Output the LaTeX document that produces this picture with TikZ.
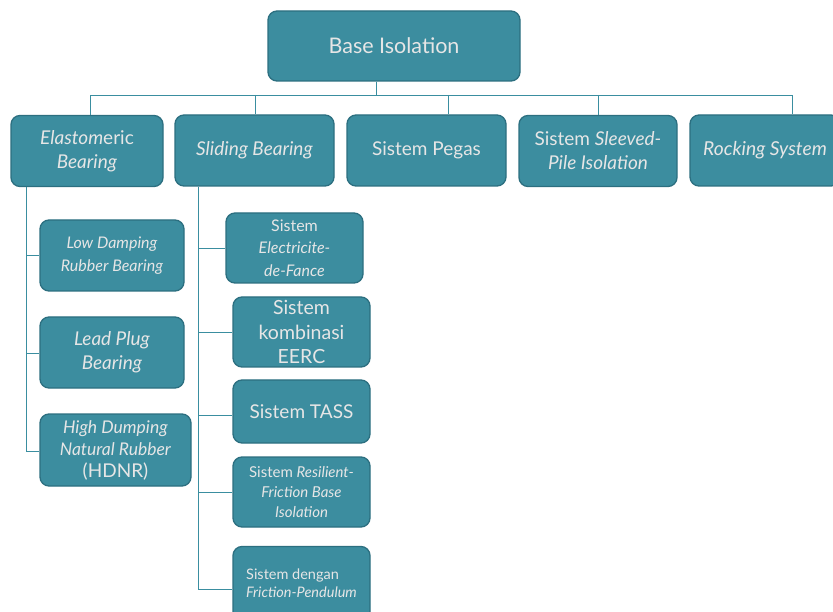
\documentclass[tikz,border=0pt]{standalone}
\usepackage{fontspec}
\setmainfont{Lato}
\definecolor{boxfill}{HTML}{3C8D9F}
\definecolor{boxedge}{HTML}{2C6F80}
\definecolor{linkcol}{HTML}{3A8EA0}
\definecolor{boxtext}{HTML}{E6E6E6}
\tikzset{
  box/.style={draw=boxedge, line width=1.3pt, fill=boxfill, rounded corners=9pt,
    text=boxtext, align=center, inner sep=2pt},
  lbl/.style={text=boxtext, inner sep=0pt},
  link/.style={draw=linkcol, line width=0.9pt},
  fs/.style n args={2}{font=\fontsize{#1}{#2}\selectfont},
}
\begin{document}
\begin{tikzpicture}[x=1pt,y=-1pt]
\useasboundingbox (0,0) rectangle (833,612);
\clip (0,0) rectangle (833,612);

% root
\node[box, minimum width=252pt, minimum height=70pt, fs={21.5}{24}] (base) at (394,46) {Base Isolation};

% first level
\node[box, minimum width=152pt, minimum height=71pt, fs={19}{24}] (elast) at (87,151)
  {\textit{Elastom}eric\\\textit{Bearing}};
\node[box, minimum width=159pt, minimum height=71pt, fs={19}{24}] (slide) at (254.5,150.5)
  {\textit{Sliding Bearing}};
\node[box, minimum width=159pt, minimum height=71pt, fs={19}{24}] (pegas) at (426.5,150.5)
  {Sistem Pegas};
\node[box, minimum width=158pt, minimum height=71pt, fs={19}{24}] (sleeve) at (598,151)
  {Sistem \textit{Sleeved-}\\\textit{Pile Isolation}};
\node[box, minimum width=150pt, minimum height=71pt, fs={19.2}{24}] (rock) at (765,150.5)
  {\textit{Rocking System}};

% elastomeric bearing types
\node[box, minimum width=144pt, minimum height=71pt, fs={16}{23}] (low) at (112,255.5)
  {\textit{Low Damping}\\\textit{Rubber Bearing}};
\node[box, minimum width=144pt, minimum height=71pt, fs={19}{24}] (lead) at (112,352.5)
  {\textit{Lead Plug}\\\textit{Bearing}};
\node[box, minimum width=151pt, minimum height=72pt, fs={17.5}{22}] (hdnr) at (115.5,450)
  {\textit{High Dumping}\\\textit{Natural Rubber}\\{\fontsize{19}{22}\selectfont(HDNR)}};

% sliding bearing types
\node[box, minimum width=137pt, minimum height=70pt, fs={16}{22.5}] (elec) at (294.5,248)
  {Sistem\\\textit{Electricite-}\\\textit{de-Fance}};
\node[box, minimum width=137pt, minimum height=70pt, fs={19.5}{24.5}] (eerc) at (301.5,332)
  {Sistem\\kombinasi\\EERC};
\node[box, minimum width=137pt, minimum height=63pt, fs={19}{24}] (tass) at (301.5,411.5)
  {Sistem TASS};
\node[box, minimum width=137pt, minimum height=70pt, fs={15}{20}] (resil) at (301.5,492)
  {Sistem \textit{Resilient-}\\\textit{Friction Base}\\\textit{Isolation}};
\node[box, minimum width=137pt, minimum height=85pt] (fric) at (301.5,589) {};
\node[lbl, fs={14.5}{18}, align=left] (frictxt) at ([yshift=6pt]fric.center)
  {Sistem dengan\\\textit{Friction-Pendulum}};

% bus below the root
\coordinate (busL) at (90,95);
\coordinate (busR) at (792,95);
\coordinate (busRoot) at (376,95);
\coordinate (bS) at (255,95);
\coordinate (bP) at (448,95);
\coordinate (bV) at (598,95);
\draw[link] (base.south -| busRoot) -- (busRoot);
\draw[link] (busL |- elast.north) |- (busR) -- (busR |- rock.north);
\draw[link] (bS) -- (bS |- slide.north);
\draw[link] (bP) -- (bP |- pegas.north);
\draw[link] (bV) -- (bV |- sleeve.north);

% elastomeric branch
\coordinate (spE) at (26,0);
\coordinate (lowY) at (0,255);
\coordinate (leadY) at (0,353);
\coordinate (hdnrY) at (0,451);
\draw[link] (spE |- elast.south) |- (hdnr.west |- hdnrY);
\draw[link] (spE |- lowY) -- (low.west |- lowY);
\draw[link] (spE |- leadY) -- (lead.west |- leadY);

% sliding branch
\coordinate (spS) at (198,0);
\coordinate (elecY) at (0,248);
\coordinate (eercY) at (0,332);
\coordinate (tassY) at (0,415);
\coordinate (resilY) at (0,492);
\coordinate (fricY) at (0,589);
\draw[link] (spS |- slide.south) |- (fric.west |- fricY);
\draw[link] (spS |- elecY) -- (elec.west |- elecY);
\draw[link] (spS |- eercY) -- (eerc.west |- eercY);
\draw[link] (spS |- tassY) -- (tass.west |- tassY);
\draw[link] (spS |- resilY) -- (resil.west |- resilY);
\end{tikzpicture}
\end{document}
